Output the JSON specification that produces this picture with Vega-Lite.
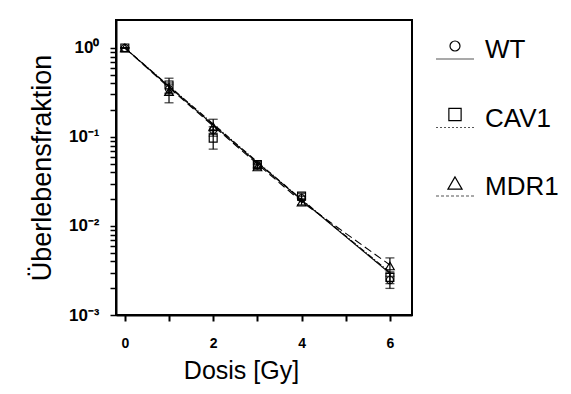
{
  "$schema": "https://vega.github.io/schema/vega-lite/v6.json",
  "padding": {"left": 27, "top": 19, "right": 0, "bottom": 0},
  "background": "white",
  "bounds": "flush",
  "spacing": 23,
  "config": {"font": "Liberation Sans", "view": {"stroke": null}},
  "resolve": {"scale": {"x": "independent", "y": "independent", "shape": "independent", "size": "independent", "strokeDash": "independent"}},
  "datasets": {
    "obs": [
      {"series": "WT", "dose": 0, "sf": 1.0, "lo": 1.0, "hi": 1.0},
      {"series": "WT", "dose": 1, "sf": 0.345, "lo": 0.305, "hi": 0.385},
      {"series": "WT", "dose": 2, "sf": 0.12, "lo": 0.11, "hi": 0.13},
      {"series": "WT", "dose": 3, "sf": 0.048, "lo": 0.045, "hi": 0.051},
      {"series": "WT", "dose": 4, "sf": 0.0205, "lo": 0.0195, "hi": 0.0215},
      {"series": "WT", "dose": 6, "sf": 0.00247, "lo": 0.00199, "hi": 0.00295},
      {"series": "CAV1", "dose": 0, "sf": 1.0, "lo": 1.0, "hi": 1.0},
      {"series": "CAV1", "dose": 1, "sf": 0.384, "lo": 0.311, "hi": 0.457},
      {"series": "CAV1", "dose": 2, "sf": 0.097, "lo": 0.073, "hi": 0.121},
      {"series": "CAV1", "dose": 3, "sf": 0.049, "lo": 0.045, "hi": 0.053},
      {"series": "CAV1", "dose": 4, "sf": 0.0217, "lo": 0.0202, "hi": 0.0232},
      {"series": "CAV1", "dose": 6, "sf": 0.00265, "lo": 0.00225, "hi": 0.00305},
      {"series": "MDR1", "dose": 0, "sf": 1.0, "lo": 1.0, "hi": 1.0},
      {"series": "MDR1", "dose": 1, "sf": 0.323, "lo": 0.242, "hi": 0.404},
      {"series": "MDR1", "dose": 2, "sf": 0.13, "lo": 0.102, "hi": 0.158},
      {"series": "MDR1", "dose": 3, "sf": 0.046, "lo": 0.043, "hi": 0.049},
      {"series": "MDR1", "dose": 4, "sf": 0.0185, "lo": 0.0173, "hi": 0.0197},
      {"series": "MDR1", "dose": 6, "sf": 0.00355, "lo": 0.00272, "hi": 0.00438}
    ],
    "fit": [
      {"series": "WT", "dose": 0, "sf": 1.0},
      {"series": "WT", "dose": 1, "sf": 0.368},
      {"series": "WT", "dose": 2, "sf": 0.1364},
      {"series": "WT", "dose": 3, "sf": 0.0515},
      {"series": "WT", "dose": 4, "sf": 0.0196},
      {"series": "WT", "dose": 5, "sf": 0.00759},
      {"series": "WT", "dose": 6, "sf": 0.00294},
      {"series": "CAV1", "dose": 0, "sf": 1.0},
      {"series": "CAV1", "dose": 1, "sf": 0.374},
      {"series": "CAV1", "dose": 2, "sf": 0.140},
      {"series": "CAV1", "dose": 3, "sf": 0.0524},
      {"series": "CAV1", "dose": 4, "sf": 0.0199},
      {"series": "CAV1", "dose": 5, "sf": 0.00772},
      {"series": "CAV1", "dose": 6, "sf": 0.00302},
      {"series": "MDR1", "dose": 0, "sf": 1.0},
      {"series": "MDR1", "dose": 1, "sf": 0.358},
      {"series": "MDR1", "dose": 2, "sf": 0.133},
      {"series": "MDR1", "dose": 3, "sf": 0.0497},
      {"series": "MDR1", "dose": 4, "sf": 0.01876},
      {"series": "MDR1", "dose": 5, "sf": 0.00827},
      {"series": "MDR1", "dose": 6, "sf": 0.00365}
    ],
    "legend": [
      {"series": "WT"},
      {"series": "CAV1"},
      {"series": "MDR1"}
    ]
  },
  "hconcat": [
    {
      "width": 296,
      "height": 295,
      "view": {"stroke": "black", "strokeWidth": 2},
      "encoding": {
        "x": {
          "field": "dose", "type": "quantitative",
          "scale": {"domain": [-0.2, 6.5], "nice": false, "zero": false},
          "axis": {
            "title": "Dosis [Gy]",
            "values": [0, 1, 2, 3, 4, 5, 6],
            "labelExpr": "datum.value % 2 == 0 ? datum.label : ''",
            "grid": false,
            "domainColor": "black", "domainWidth": 2,
            "tickColor": "black", "tickWidth": 2, "tickSize": 6,
            "labelFont": "Liberation Sans", "labelFontWeight": "bold", "labelFontSize": 14, "labelColor": "black",
            "labelPadding": 15,
            "titleFont": "Liberation Sans", "titleFontSize": 25, "titleFontWeight": "normal", "titleColor": "black",
            "titlePadding": 8,
            "titleX": 125
          }
        },
        "y": {
          "field": "sf", "type": "quantitative",
          "scale": {"type": "log", "domain": [0.001, 2.06], "nice": false},
          "axis": {
            "title": "Überlebensfraktion",
            "values": [1, 0.9, 0.8, 0.7, 0.6, 0.5, 0.4, 0.3, 0.2, 0.1, 0.09, 0.08, 0.07, 0.06, 0.05, 0.04, 0.03, 0.02, 0.01, 0.009, 0.008, 0.007, 0.006, 0.005, 0.004, 0.003, 0.002, 0.001],
            "labelExpr": "datum.value == 1 ? '10⁰' : datum.value == 0.1 ? '10⁻¹' : datum.value == 0.01 ? '10⁻²' : datum.value == 0.001 ? '10⁻³' : ''",
            "grid": false,
            "domainColor": "black", "domainWidth": 2,
            "tickColor": "black", "tickWidth": 1.5, "tickSize": 6,
            "labelFont": "Liberation Sans", "labelFontWeight": "bold", "labelFontSize": 17, "labelColor": "black",
            "labelPadding": 11,
            "titleFont": "Liberation Sans", "titleFontSize": 27, "titleFontWeight": "normal", "titleColor": "black",
            "titlePadding": 12,
            "encode": {
              "ticks": {
                "update": {
                  "x2": {"signal": "indexof([1, 0.1, 0.01, 0.001], datum.value) >= 0 ? -6 : -2.5"},
                  "strokeWidth": {"signal": "indexof([1, 0.1, 0.01, 0.001], datum.value) >= 0 ? 2 : 1.5"}
                }
              }
            }
          }
        }
      },
      "layer": [
        {
          "data": {"name": "fit"},
          "mark": {"type": "line", "color": "black", "strokeWidth": 1.1},
          "encoding": {
            "detail": {"field": "series"},
            "strokeDash": {
              "field": "series", "type": "nominal",
              "scale": {"domain": ["WT", "CAV1", "MDR1"], "range": [[1, 0], [6, 2, 1, 2], [8, 4]]},
              "legend": null
            }
          }
        },
        {
          "data": {"name": "obs"},
          "mark": {"type": "rule", "color": "black", "strokeWidth": 1.2},
          "encoding": {"y": {"field": "lo", "type": "quantitative"}, "y2": {"field": "hi"}}
        },
        {
          "data": {"name": "obs"},
          "mark": {"type": "tick", "orient": "horizontal", "color": "black", "size": 9, "thickness": 1.3},
          "encoding": {"y": {"field": "lo", "type": "quantitative"}}
        },
        {
          "data": {"name": "obs"},
          "mark": {"type": "tick", "orient": "horizontal", "color": "black", "size": 9, "thickness": 1.3},
          "encoding": {"y": {"field": "hi", "type": "quantitative"}}
        },
        {
          "data": {"name": "obs"},
          "mark": {"type": "point", "filled": false, "color": "black", "strokeWidth": 1.2, "opacity": 1},
          "encoding": {
            "shape": {
              "field": "series", "type": "nominal",
              "scale": {"domain": ["WT", "CAV1", "MDR1"], "range": ["circle", "square", "triangle-up"]},
              "legend": null
            },
            "size": {
              "field": "series", "type": "ordinal",
              "scale": {"domain": ["WT", "CAV1", "MDR1"], "range": [50, 75, 65]},
              "legend": null
            }
          }
        }
      ]
    },
    {
      "width": 40,
      "height": 295,
      "data": {"name": "legend"},
      "encoding": {
        "y": {
          "field": "series", "type": "nominal",
          "scale": {"type": "point", "domain": ["WT", "CAV1", "MDR1"], "range": [26, 163], "padding": 0},
          "axis": null
        }
      },
      "layer": [
        {
          "mark": {"type": "point", "shape": "stroke", "size": 1444, "yOffset": 13, "color": "#555555", "strokeWidth": 1.2, "opacity": 1},
          "encoding": {
            "strokeDash": {
              "field": "series", "type": "nominal",
              "scale": {"domain": ["WT", "CAV1", "MDR1"], "range": [[1, 0], [2, 2], [3, 2]]},
              "legend": null
            }
          }
        },
        {
          "mark": {"type": "point", "filled": false, "color": "black", "strokeWidth": 1.2, "opacity": 1},
          "encoding": {
            "shape": {
              "field": "series", "type": "nominal",
              "scale": {"domain": ["WT", "CAV1", "MDR1"], "range": ["circle", "square", "triangle-up"]},
              "legend": null
            },
            "size": {
              "field": "series", "type": "ordinal",
              "scale": {"domain": ["WT", "CAV1", "MDR1"], "range": [100, 200, 170]},
              "legend": null
            }
          }
        },
        {
          "mark": {"type": "text", "align": "left", "baseline": "middle", "dx": 30, "dy": 4, "fontSize": 26, "font": "Liberation Sans", "color": "black"},
          "encoding": {"text": {"field": "series"}}
        }
      ]
    }
  ]
}
